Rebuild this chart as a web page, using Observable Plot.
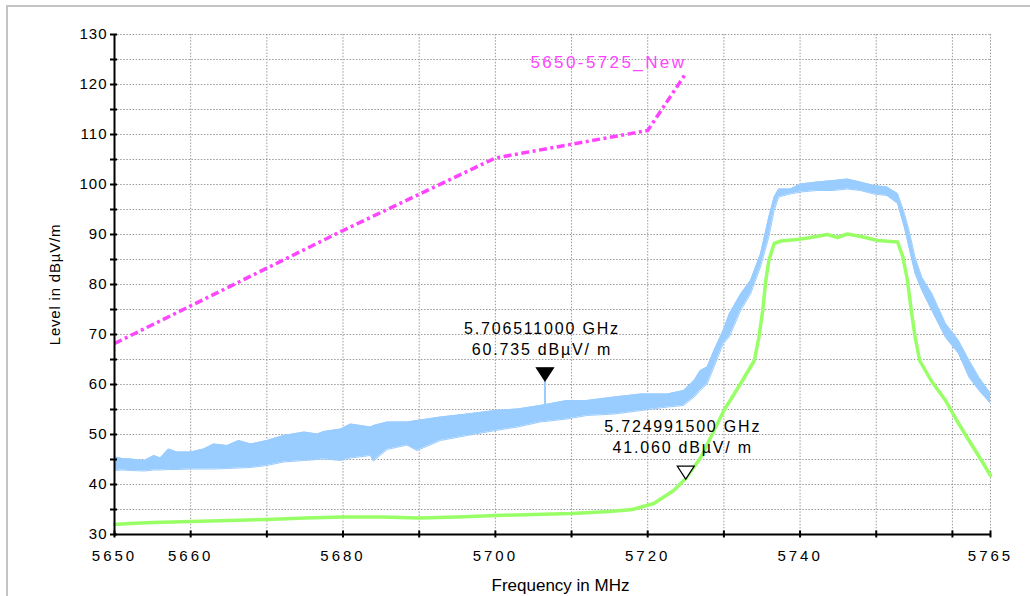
<!DOCTYPE html>
<html><head><meta charset="utf-8">
<script src="https://cdn.jsdelivr.net/npm/d3@7"></script>
<script src="https://cdn.jsdelivr.net/npm/@observablehq/plot@0.6"></script>
<style>
body{margin:0;background:#fff;}
#frame{position:absolute;left:6px;top:5px;width:1200px;height:800px;border-left:2px solid #c4c4c4;border-top:2px solid #c4c4c4;}
#chart{position:absolute;left:0;top:0;}
</style></head><body><div id="frame"></div><div id="chart"></div>
<script>
// ---- ticks ----
const freqTicks = [5650,5660,5670,5680,5690,5700,5710,5720,5730,5740,5750,5760,5765];
const freqLabels = [5650,5660,5680,5700,5720,5740,5765];
const levelTicks = [30,35,40,45,50,55,60,65,70,75,80,85,90,95,100,105,110,115,120,125,130];

// ---- blue trace (peak detector), envelope ----
const blueFreq = [5650.0,5651.0,5652.1,5653.9,5655.2,5656.0,5657.1,5658.2,5660.0,5661.7,5663.0,5664.8,5666.3,5667.9,5670.0,5672.2,5674.9,5676.6,5677.5,5679.7,5681.0,5683.6,5684.0,5685.8,5688.4,5689.7,5692.8,5696.3,5700.0,5702.9,5705.9,5709.4,5712.0,5715.6,5719.1,5722.6,5724.7,5726.1,5726.9,5727.8,5728.7,5729.9,5730.7,5732.2,5733.5,5734.8,5735.9,5736.6,5737.2,5738.7,5740.1,5742.2,5744.4,5746.2,5747.9,5749.7,5751.4,5752.8,5753.7,5754.4,5755.1,5756.0,5757.3,5759.1,5760.8,5762.2,5763.5,5765.0];
const blueLo = [42.8,42.9,42.8,42.7,42.9,42.9,43.0,43.0,43.1,43.1,43.1,43.2,43.3,43.4,43.8,44.5,44.8,45.0,45.1,44.8,45.3,45.8,44.7,47.0,47.9,46.8,48.8,49.8,50.8,51.5,52.5,53.1,53.8,54.1,54.8,55.5,55.8,57.5,58.8,60.1,63.5,68.1,69.5,74.8,78.1,83.5,89.5,94.8,97.5,98.1,98.5,98.8,98.8,99.1,98.8,98.1,97.8,96.2,91.4,86.8,82.2,78.8,74.8,69.4,66.2,61.4,58.8,56.2];
const blueHi = [45.5,45.2,45.1,44.8,45.8,45.3,47.1,46.5,46.5,47.1,48.1,47.8,48.8,48.1,48.8,49.8,50.5,50.1,50.6,51.1,52.1,51.5,51.8,52.5,52.5,52.8,53.5,54.1,54.8,55.1,55.8,56.8,56.8,57.5,58.1,58.1,58.8,60.8,62.8,63.5,66.8,70.8,74.1,78.1,80.8,86.1,93.5,97.5,99.1,99.1,100.1,100.5,100.8,101.1,100.5,99.8,99.5,98.2,94.2,90.2,85.4,81.4,78.2,72.2,68.8,64.8,61.4,58.2];

// ---- green trace ----
const greenFreq = [5650,5652,5655,5660,5665,5670,5675,5680,5685,5690,5695,5700,5705,5710,5715,5718,5720.8,5723.4,5725,5727,5730,5732.2,5734,5734.6,5735.1,5735.5,5735.9,5736.6,5737.5,5739.6,5741,5743.6,5744.9,5746.2,5748,5750.2,5752.8,5753.5,5754.1,5754.6,5755.1,5755.7,5757.2,5759.1,5760.5,5761.9,5764.1,5765];
const greenLevel = [32.0,32.2,32.4,32.6,32.8,33.0,33.3,33.5,33.5,33.3,33.5,33.8,34.0,34.2,34.6,35.0,36.2,38.8,41.2,45.5,54.8,60.2,64.8,69.5,74.8,80.8,84.8,88.2,88.7,89.0,89.3,90.0,89.4,90.1,89.6,88.8,88.5,85.5,80.8,74.8,69.5,64.8,60.8,56.8,53.0,49.5,44.1,41.8];

// ---- limit line ----
const limitFreq = [5650,5680,5700,5720,5725];
const limitLevel = [68.2,90.8,105.3,110.8,122.2];
const limitName = "5650-5725_New";

// ---- markers ----
const markerFreq = [5706.511, 5724.9915];
const markerLevel = [60.735, 41.060];
const markerLabel = ["5.706511000 GHz\n60.735 dBµV/ m", "5.724991500 GHz\n41.060 dBµV/ m"];
const markerFill = ["black", "white"];
const spikeBase = [55.6];

const blue = blueFreq.map((f,i)=>({f, lo: blueLo[i], hi: blueHi[i]}));
const green = greenFreq.map((f,i)=>({f, v: greenLevel[i]}));
const limit = limitFreq.map((f,i)=>({f, v: limitLevel[i]}));
const markers = markerFreq.map((f,i)=>({f, v: markerLevel[i], label: markerLabel[i], fill: markerFill[i]}));
const spike = [{f: markerFreq[0], lo: spikeBase[0], hi: markerLevel[0]}];

const tipDown = {draw(ctx){ ctx.moveTo(0,0); ctx.lineTo(-8.5,-13); ctx.lineTo(8.5,-13); ctx.closePath(); }};

const FONT = "'Liberation Sans', Arial, sans-serif";
const BLUE = "#99ccff", GREEN = "#99ff66", MAG = "#ff44ff";

const chart = Plot.plot({
  width: 1030, height: 596,
  marginLeft: 114, marginRight: 40, marginTop: 34, marginBottom: 62,
  style: {fontFamily: FONT, background: "transparent", color: "black"},
  x: {domain: [5650, 5765]},
  y: {domain: [30, 130]},
  marks: [
    Plot.gridX(freqTicks, {stroke: "#9a9a9a", strokeOpacity: 1, strokeDasharray: "1.5,1.6"}),
    Plot.gridY(levelTicks, {stroke: "#9a9a9a", strokeOpacity: 1, strokeDasharray: "1.5,1.6"}),
    Plot.areaY(blue, {x: "f", y1: "lo", y2: "hi", fill: BLUE}),
    Plot.line(blue, {x: "f", y: "hi", stroke: BLUE, strokeWidth: 1}),
    Plot.line(blue, {x: "f", y: "lo", stroke: BLUE, strokeWidth: 1}),
    Plot.ruleX(spike, {x: "f", y1: "lo", y2: "hi", stroke: BLUE, strokeWidth: 2}),
    Plot.line(green, {x: "f", y: "v", stroke: GREEN, strokeWidth: 3.5}),
    Plot.line(limit, {x: "f", y: "v", stroke: MAG, strokeWidth: 3.5, strokeDasharray: "8,3.5,3,3.5", strokeLinecap: "butt"}),
    Plot.text([limitName], {x: [5704.6], y: [123.3], text: d => d, textAnchor: "start", lineAnchor: "bottom", fill: MAG, fontSize: 17}),
    Plot.dot(markers, {x: "f", y: "v", symbol: tipDown, fill: "fill", stroke: "black", strokeWidth: 1.2}),
    Plot.text(markers, {x: "f", y: "v", text: "label", textAnchor: "middle", lineAnchor: "bottom", dy: -26, dx: -3, fontSize: 16, lineHeight: 1.32, fill: "black"}),
    Plot.ruleX([5650], {stroke: "black", strokeWidth: 2}),
    Plot.ruleY([30], {stroke: "black", strokeWidth: 2}),
    Plot.axisX({ticks: freqTicks, tickFormat: d => freqLabels.includes(d) ? String(d) : "", tickSize: 7, dy: -3.5, tickPadding: 12.5, strokeWidth: 2, fontSize: 15, label: null}),
    Plot.axisY({ticks: levelTicks, tickFormat: d => d % 10 === 0 ? String(d) : "", tickSize: 7, dx: 3, tickPadding: 3, strokeWidth: 2, fontSize: 15, label: null}),
    Plot.text(["Level in dBµV/m"], {text: d => d, frameAnchor: "left", textAnchor: "middle", dx: -59, rotate: -90, fontSize: 15, fill: "black"}),
    Plot.text(["Frequency in MHz"], {text: d => d, frameAnchor: "bottom", dy: 56, dx: 8, lineAnchor: "bottom", fontSize: 17, fill: "black"})
  ]
});
document.getElementById("chart").appendChild(chart);
// bitmap-like wide spacing of the instrument fonts
const root = d3.select(chart);
root.selectAll('g[aria-label*="x-axis tick label"] text').style("letter-spacing", "3px");
root.selectAll('g[aria-label*="y-axis tick label"] text').style("letter-spacing", "1px");
const textGroups = root.selectAll('g[aria-label="text"]').nodes();
if (textGroups[0]) d3.select(textGroups[0]).selectAll("text").style("letter-spacing", "2.4px");
if (textGroups[1]) d3.select(textGroups[1]).selectAll("text").style("letter-spacing", "1.8px");
if (textGroups[2]) d3.select(textGroups[2]).selectAll("text").style("letter-spacing", "0.8px");
</script></body></html>
